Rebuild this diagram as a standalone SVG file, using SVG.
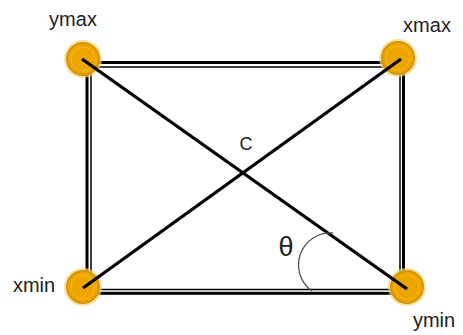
<svg xmlns="http://www.w3.org/2000/svg" width="463" height="335" viewBox="0 0 463 335">
<style>
.lbl{font-family:"Liberation Sans",Arial,sans-serif;font-size:20px;fill:#222;text-anchor:middle}
.halo{fill:#f5d27a;opacity:.7}
.dot{fill:#eea500;stroke:#d1980a;stroke-width:2}
.ring{fill:none;stroke:#f6ba22;stroke-width:1}
.edge{stroke:#000;fill:none}
</style>
<rect width="463" height="335" fill="#fff"/>
<g id="frame">
<rect class="edge" x="87" y="62.5" width="316.5" height="230.8" stroke-width="3"/>
<rect class="edge" x="91" y="67" width="309" height="222.5" stroke-width="1.5"/>
</g>
<g id="node-ymax">
<circle class="halo" cx="83" cy="59" r="19"/>
<circle class="dot" cx="83" cy="59" r="16"/>
<circle class="ring" cx="83" cy="59" r="12"/>
<text class="lbl" x="73" y="26">ymax</text>
</g>
<g id="node-xmax">
<circle class="halo" cx="398" cy="58" r="19"/>
<circle class="dot" cx="398" cy="58" r="16"/>
<circle class="ring" cx="398" cy="58" r="12"/>
<text class="lbl" x="427" y="32">xmax</text>
</g>
<g id="node-xmin">
<circle class="halo" cx="83" cy="287" r="19"/>
<circle class="dot" cx="83" cy="287" r="16"/>
<circle class="ring" cx="83" cy="287" r="12"/>
<text class="lbl" x="34" y="292">xmin</text>
</g>
<g id="node-ymin">
<circle class="halo" cx="407" cy="287" r="19"/>
<circle class="dot" cx="407" cy="287" r="16"/>
<circle class="ring" cx="407" cy="287" r="12"/>
<text class="lbl" x="434" y="327">ymin</text>
</g>
<g id="connectors">
<line class="edge" x1="82" y1="59" x2="407" y2="289" stroke-width="3.3"/>
<line class="edge" x1="83" y1="288" x2="401" y2="59" stroke-width="3.3"/>
<path d="M333 233 A32 32 0 0 0 312 291" fill="none" stroke="#555" stroke-width="1.3"/>
</g>
<g id="labels">
<text class="lbl" x="246" y="150" style="font-size:18px">C</text>
<text class="lbl" x="286" y="256" style="font-size:27px">θ</text>
</g>
</svg>
